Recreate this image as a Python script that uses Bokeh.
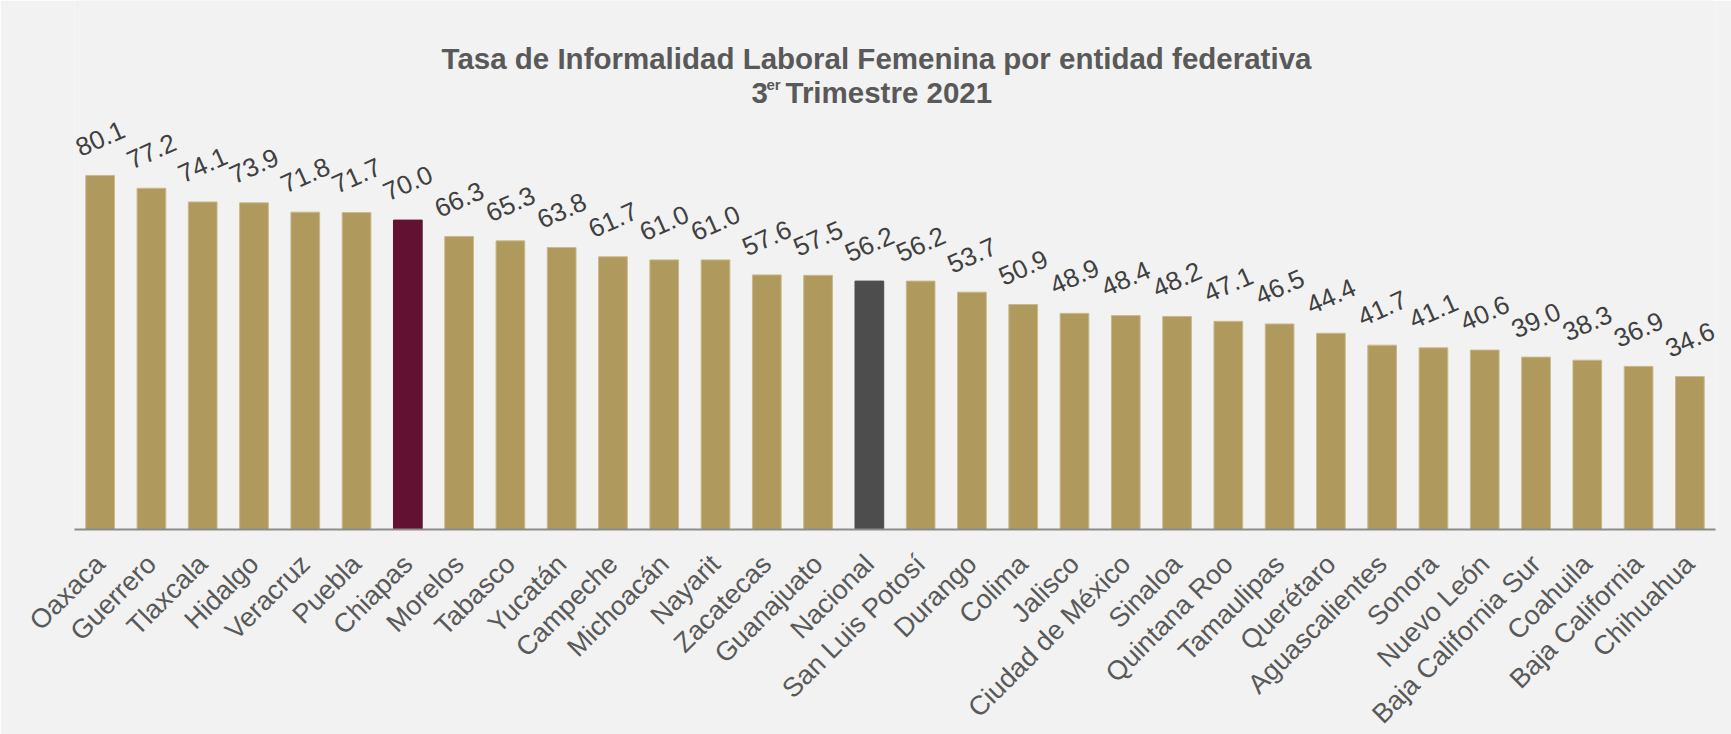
import math
from bokeh.plotting import figure
from bokeh.models import FactorRange, Range1d, ColumnDataSource, Label, LabelSet
from bokeh.core.properties import value
from bokeh.embed import file_html
from bokeh.resources import INLINE

# ---- data ----
estados = ["Oaxaca", "Guerrero", "Tlaxcala", "Hidalgo", "Veracruz", "Puebla", "Chiapas",
           "Morelos", "Tabasco", "Yucatán", "Campeche", "Michoacán", "Nayarit", "Zacatecas",
           "Guanajuato", "Nacional", "San Luis Potosí", "Durango", "Colima", "Jalisco",
           "Ciudad de México", "Sinaloa", "Quintana Roo", "Tamaulipas", "Querétaro",
           "Aguascalientes", "Sonora", "Nuevo León", "Baja California Sur", "Coahuila",
           "Baja California", "Chihuahua"]
tasa = [80.1, 77.2, 74.1, 73.9, 71.8, 71.7, 70.0, 66.3, 65.3, 63.8, 61.7, 61.0, 61.0, 57.6,
        57.5, 56.2, 56.2, 53.7, 50.9, 48.9, 48.4, 48.2, 47.1, 46.5, 44.4, 41.7, 41.1, 40.6,
        39.0, 38.3, 36.9, 34.6]
titulo = "Tasa de Informalidad Laboral Femenina por entidad federativa"
subtitulo_num = "3"
subtitulo_sup = "er"
subtitulo_txt = "Trimestre 2021"

# ---- styling ----
GOLD = "#AF995C"
GOLD_EDGE = "#C8B98C"
CHIAPAS = "#621132"
NACIONAL = "#4D4D4D"
BG = "#F2F2F2"
FONT = "Liberation Sans"

colors = []
edges = []
for e in estados:
    if e == "Chiapas":
        colors.append(CHIAPAS); edges.append(CHIAPAS)
    elif e == "Nacional":
        colors.append(NACIONAL); edges.append(NACIONAL)
    else:
        colors.append(GOLD); edges.append(GOLD_EDGE)

PX_PER_UNIT = 4.42
FRAME_H = 529
FRAME_W = 1641
LEFT = 74
CAT_W = FRAME_W / len(estados)

labels_y = [v + 37 / PX_PER_UNIT for v in tasa]
src = ColumnDataSource(dict(x=estados, top=tasa, color=colors, edge=edges,
                            ly=labels_y, txt=[f"{v:.1f}" for v in tasa]))

p = figure(x_range=FactorRange(*estados), y_range=Range1d(0, FRAME_H / PX_PER_UNIT),
           frame_width=FRAME_W, frame_height=FRAME_H,
           min_border_left=LEFT, min_border_right=16, min_border_top=0, min_border_bottom=205,
           output_backend="svg", toolbar_location=None, y_axis_location=None,
           background_fill_color=BG, border_fill_color=BG, outline_line_color=None)
p.xgrid.grid_line_color = None
p.ygrid.grid_line_color = None

p.vbar(x="x", top="top", width=0.56, source=src, fill_color="color", line_color="edge",
       line_width=1)

p.add_layout(LabelSet(x="x", y="ly", text="txt", source=src, angle=24, angle_units="deg",
                      text_align="center", text_baseline="middle", text_color="#404040",
                      text_font=value(FONT), text_font_size="26px"))

ax = p.xaxis[0]
ax.axis_line_color = "#8C8C8C"
ax.axis_line_width = 2
ax.major_tick_line_color = None
ax.minor_tick_line_color = None
ax.major_label_orientation = math.pi / 4
ax.major_label_standoff = 24
ax.major_label_text_font = FONT
ax.major_label_text_font_size = "27px"
ax.major_label_text_color = "#595959"

def sx(page_x):
    return (page_x - LEFT) / CAT_W

def sy(page_y):
    return (FRAME_H - page_y) / PX_PER_UNIT

title_style = dict(text_font=FONT, text_font_style="bold", text_color="#595959")
p.add_layout(Label(x=sx(876), y=sy(58), text=titulo, text_align="center",
                   text_baseline="alphabetic", text_font_size="29.5px", **title_style))
p.add_layout(Label(x=sx(751), y=sy(92), text=subtitulo_num, text_align="left",
                   text_baseline="alphabetic", text_font_size="29.5px", **title_style))
p.add_layout(Label(x=sx(766), y=sy(84), text=subtitulo_sup, text_align="left",
                   text_baseline="alphabetic", text_font_size="15px", **title_style))
p.add_layout(Label(x=sx(785), y=sy(92), text=subtitulo_txt, text_align="left",
                   text_baseline="alphabetic", text_font_size="29.5px", **title_style))

open("out.html", "w").write(file_html(p, INLINE))
